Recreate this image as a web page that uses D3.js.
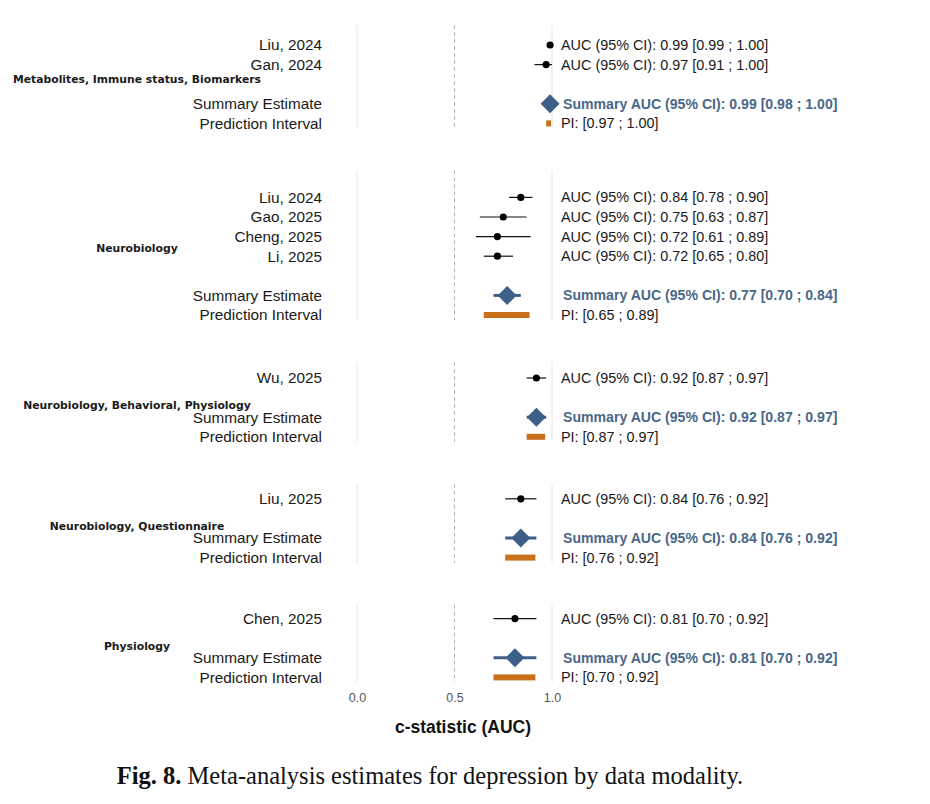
<!DOCTYPE html>
<html>
<head>
<meta charset="utf-8">
<script src="https://cdn.jsdelivr.net/npm/d3@7"></script>
<style>
  body { margin: 0; background: #fff; }
  svg text { font-family: "Liberation Sans", Arial, sans-serif; }
</style>
</head>
<body>
<svg id="chart" width="930" height="804"></svg>
<script>
// groups (data modality)
const groups = [
    'Metabolites, Immune status, Biomarkers',
    'Neurobiology',
    'Neurobiology, Behavioral, Physiology',
    'Neurobiology, Questionnaire',
    'Physiology',
];

// individual studies
const studyNames = ['Liu, 2024', 'Gan, 2024', 'Liu, 2024', 'Gao, 2025', 'Cheng, 2025', 'Li, 2025', 'Wu, 2025', 'Liu, 2025', 'Chen, 2025'];
const studyGroup = [0, 0, 1, 1, 1, 1, 2, 3, 4];
const studyAuc = [0.99, 0.97, 0.84, 0.75, 0.72, 0.72, 0.92, 0.84, 0.81];
const studyLo = [0.99, 0.91, 0.78, 0.63, 0.61, 0.65, 0.87, 0.76, 0.70];
const studyHi = [1.0, 1.0, 0.9, 0.87, 0.89, 0.8, 0.97, 0.92, 0.92];

// pooled estimates per group
const sumAuc = [0.99, 0.77, 0.92, 0.84, 0.81];
const sumLo = [0.98, 0.7, 0.87, 0.76, 0.7];
const sumHi = [1.0, 0.84, 0.97, 0.92, 0.92];
const piLo = [0.97, 0.65, 0.87, 0.76, 0.7];
const piHi = [1.0, 0.89, 0.97, 0.92, 0.92];

const xTicks = [0, 0.5, 1];

// layout
const rowStep = 19.6;
const panelGap = 42;
const panelTopPad = [20, 27, 16, 15, 14];
const panelBottomPad = 5;
const blue = '#3d5f88';
const orange = '#c8711a';
const f2 = d3.format('.2f');

const svg = d3.select('#chart');
const x = d3.scaleLinear().domain([0, 1]).range([357, 552]);

// build rows per panel: studies, blank, summary, PI
const panels = groups.map((g, gi) => {
    const rows = [];
    studyNames.forEach((name, i) => {
        if (studyGroup[i] === gi) {
            rows.push({ type: 'study', label: name, auc: studyAuc[i], lo: studyLo[i], hi: studyHi[i] });
        }
    });
    rows.push({ type: 'blank' });
    rows.push({ type: 'summary', label: 'Summary Estimate', auc: sumAuc[gi], lo: sumLo[gi], hi: sumHi[gi] });
    rows.push({ type: 'pi', label: 'Prediction Interval', lo: piLo[gi], hi: piHi[gi] });
    return { group: g, rows };
});

let panelTop = 25;
panels.forEach((p, pi) => {
    const first = panelTop + panelTopPad[pi];
    const y = d3.scaleLinear().domain([0, 1]).range([first, first + rowStep]);
    const bottom = y(p.rows.length - 1) + panelBottomPad;
    const g = svg.append('g');

    // vertical reference lines
    g.selectAll('line.ref')
        .data(xTicks)
        .join('line')
        .attr('x1', (d) => x(d))
        .attr('x2', (d) => x(d))
        .attr('y1', panelTop)
        .attr('y2', bottom)
        .attr('stroke', (d) => (d === 0.5 ? '#b5b5b5' : '#e6e6e6'))
        .attr('stroke-width', 1)
        .attr('stroke-dasharray', (d) => (d === 0.5 ? '4,3' : null));

    // group label
    g.append('text')
        .attr('x', 137)
        .attr('y', (panelTop + bottom) / 2 + 3)
        .attr('dy', '0.35em')
        .attr('text-anchor', 'middle')
        .attr('font-size', 10.8)
        .attr('font-weight', 'bold')
        .attr('fill', '#1a1a1a')
        .style('font-family', '"DejaVu Sans", Verdana, sans-serif')
        .text(p.group);

    p.rows.forEach((r, i) => {
        if (r.type === 'blank') return;
        const yy = y(i);
        g.append('text')
            .attr('x', 322)
            .attr('y', yy)
            .attr('dy', '0.35em')
            .attr('text-anchor', 'end')
            .attr('font-size', 15.3)
            .attr('fill', '#1a1a1a')
            .text(r.label);

        if (r.type === 'study') {
            g.append('line')
                .attr('x1', x(r.lo)).attr('x2', x(r.hi))
                .attr('y1', yy).attr('y2', yy)
                .attr('stroke', '#111').attr('stroke-width', 1.2);
            g.append('circle')
                .attr('cx', x(r.auc)).attr('cy', yy).attr('r', 3.6)
                .attr('fill', '#000');
            g.append('text')
                .attr('x', 561).attr('y', yy).attr('dy', '0.35em')
                .attr('font-size', 14.4).attr('fill', '#1a1a1a')
                .text(`AUC (95% CI): ${f2(r.auc)} [${f2(r.lo)} ; ${f2(r.hi)}]`);
        } else if (r.type === 'summary') {
            const s = 9.5;
            g.append('line')
                .attr('x1', x(r.lo)).attr('x2', x(r.hi))
                .attr('y1', yy).attr('y2', yy)
                .attr('stroke', blue).attr('stroke-width', 3);
            g.append('path')
                .attr('d', `M${x(r.auc) - s},${yy}L${x(r.auc)},${yy - s}L${x(r.auc) + s},${yy}L${x(r.auc)},${yy + s}Z`)
                .attr('fill', blue);
            g.append('text')
                .attr('x', 563).attr('y', yy).attr('dy', '0.35em')
                .attr('font-size', 14.1).attr('font-weight', 'bold').attr('fill', '#4a6788')
                .text(`Summary AUC (95% CI): ${f2(r.auc)} [${f2(r.lo)} ; ${f2(r.hi)}]`);
        } else if (r.type === 'pi') {
            g.append('rect')
                .attr('x', x(r.lo)).attr('width', Math.max(x(r.hi) - x(r.lo) - 1, 4))
                .attr('y', yy - 3).attr('height', 6)
                .attr('fill', orange);
            g.append('text')
                .attr('x', 561).attr('y', yy).attr('dy', '0.35em')
                .attr('font-size', 14.4).attr('fill', '#1a1a1a')
                .text(`PI: [${f2(r.lo)} ; ${f2(r.hi)}]`);
        }
    });

    panelTop = bottom + panelGap;
});

// x axis (ticks only, no axis line)
const axisY = 690;
const axis = svg.append('g')
    .attr('transform', `translate(0,${axisY})`)
    .call(d3.axisBottom(x).tickValues(xTicks).tickFormat(d3.format('.1f')).tickSize(0).tickPadding(3));
axis.select('.domain').remove();
axis.selectAll('text')
    .attr('font-size', 12.5)
    .attr('fill', '#555')
    .attr('font-family', '"Liberation Sans", Arial, sans-serif');

svg.append('text')
    .attr('x', 463)
    .attr('y', 733)
    .attr('text-anchor', 'middle')
    .attr('font-size', 17.5)
    .attr('font-weight', 'bold')
    .attr('fill', '#111')
    .text('c-statistic (AUC)');

// caption
const cap = svg.append('text')
    .attr('x', 430)
    .attr('y', 784)
    .attr('text-anchor', 'middle')
    .attr('font-size', 24.5)
    .attr('fill', '#111')
    .style('font-family', '"Liberation Serif", "Times New Roman", serif');
cap.append('tspan').attr('font-weight', 'bold').text('Fig. 8.');
cap.append('tspan').text(' Meta-analysis estimates for depression by data modality.');
</script>
</body>
</html>
